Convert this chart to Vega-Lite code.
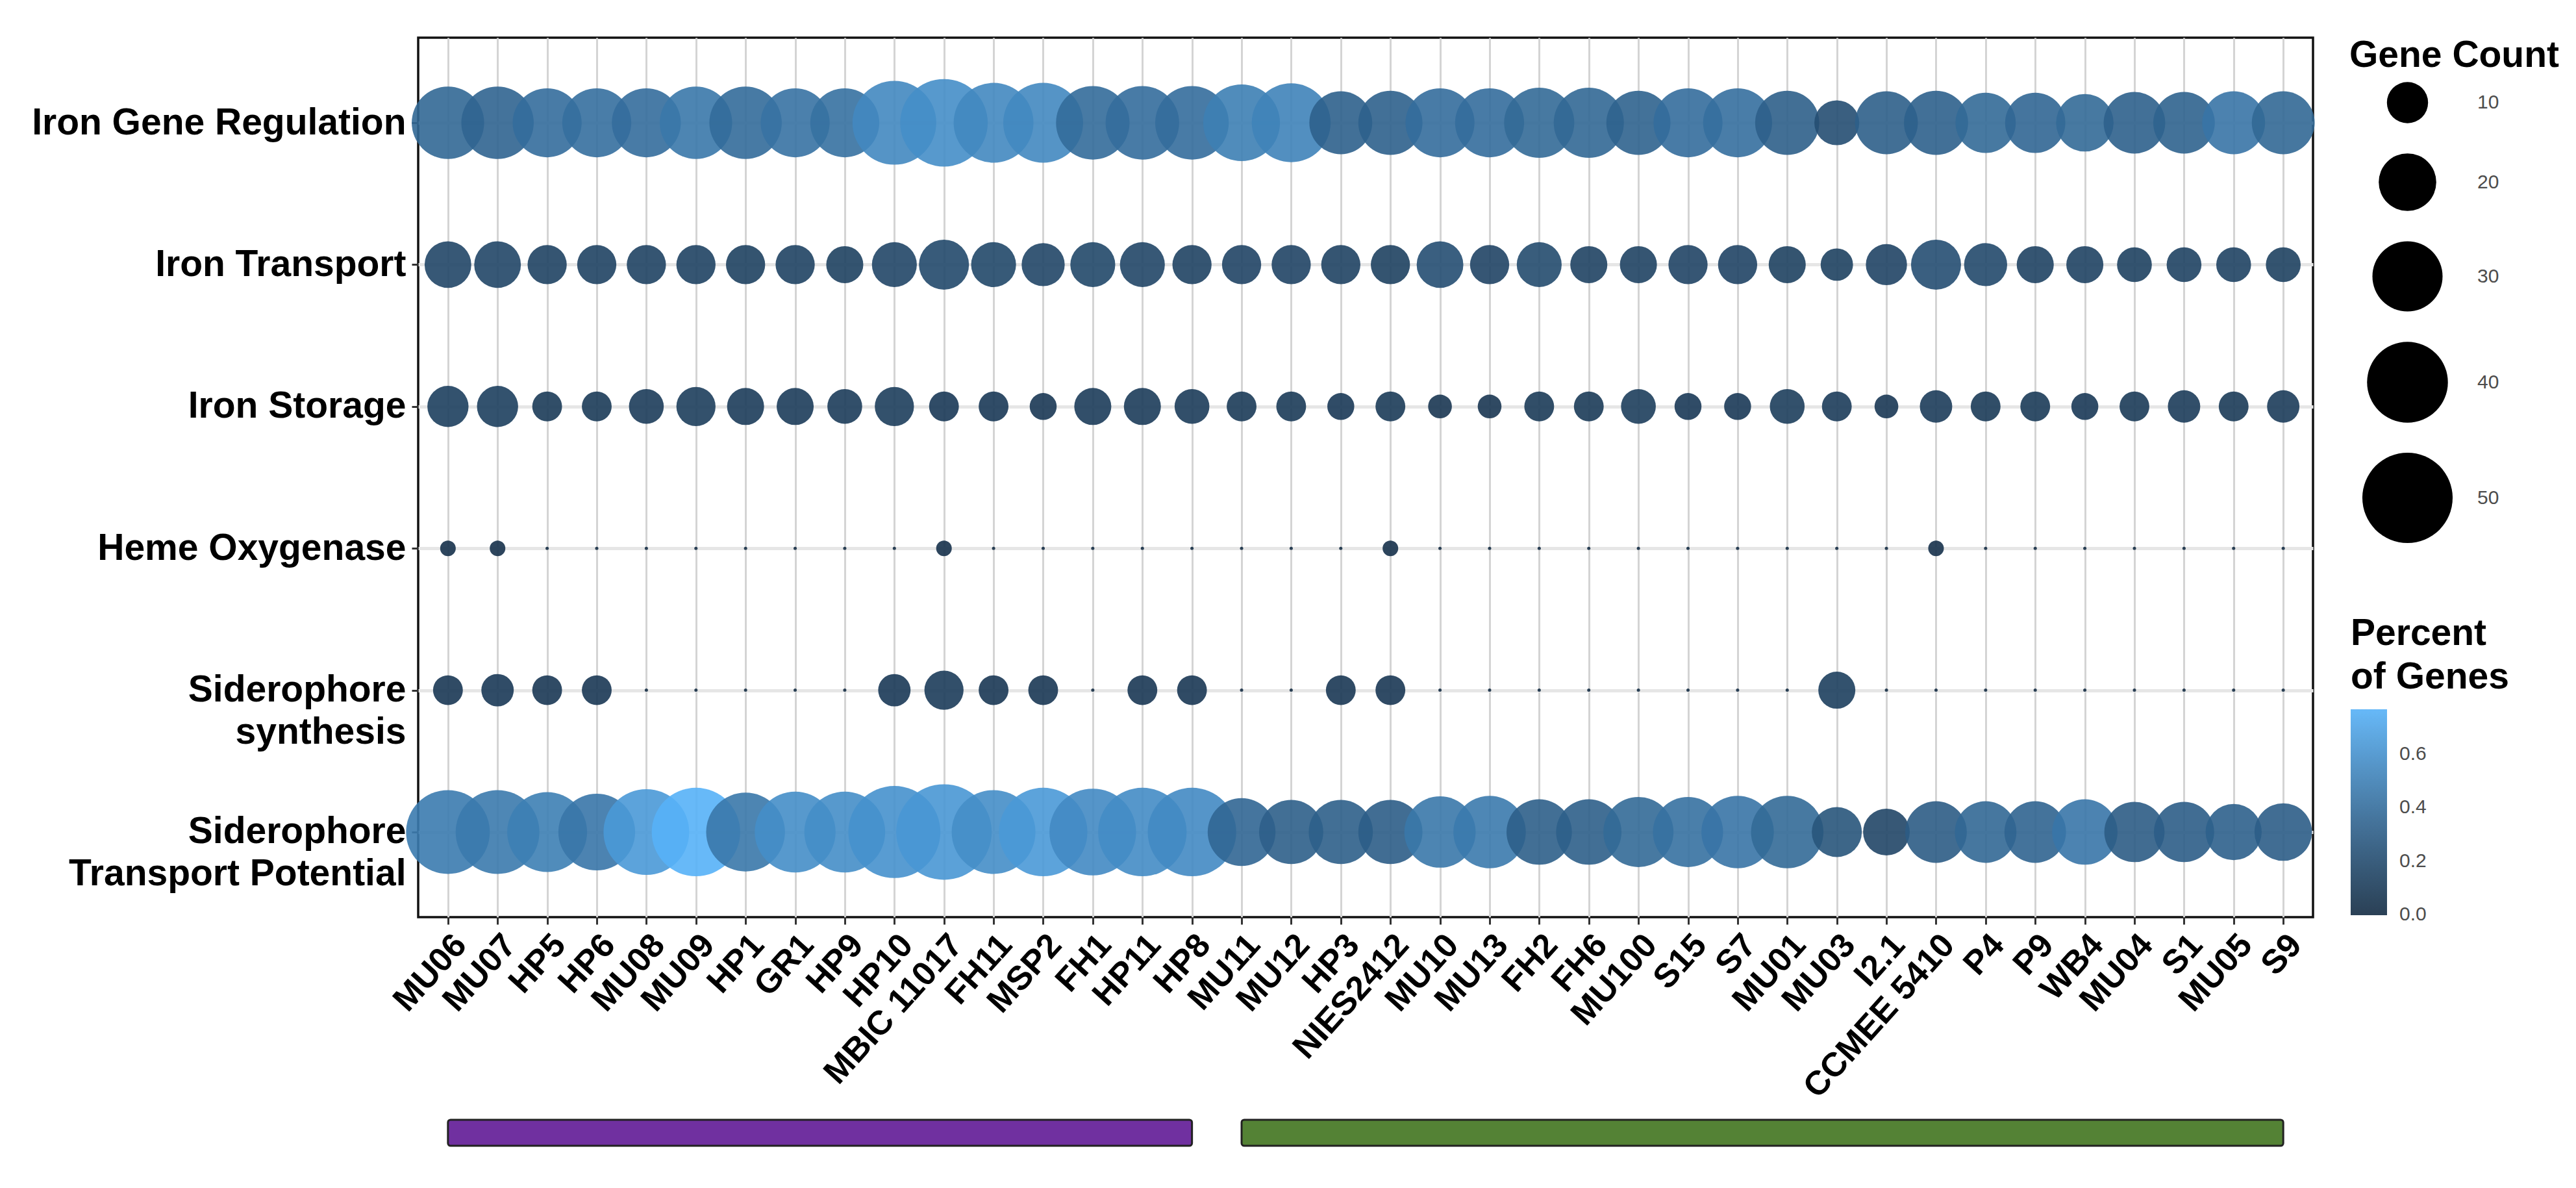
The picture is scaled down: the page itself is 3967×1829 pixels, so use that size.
{
  "$schema": "https://vega.github.io/schema/vega-lite/v6.json",
  "padding": {"left": 46, "top": 56, "right": 0, "bottom": 0},
  "background": "white",
  "config": {"font": "Liberation Sans", "view": {"stroke": null}},
  "bounds": "flush",
  "spacing": 312,
  "datasets": {
    "groups": [
      {"clade": "A", "start": "MU06", "end": "HP8"},
      {"clade": "B", "start": "MU11", "end": "S9"}
    ],
    "genes": [
      {"strain":"MU06","category":"Iron Gene Regulation","count":32,"percent":0.37},
      {"strain":"MU06","category":"Iron Transport","count":13,"percent":0.17},
      {"strain":"MU06","category":"Iron Storage","count":10,"percent":0.13},
      {"strain":"MU06","category":"Heme Oxygenase","count":1,"percent":0.04},
      {"strain":"MU06","category":"Siderophore synthesis","count":5,"percent":0.08},
      {"strain":"MU06","category":"Siderophore Transport Potential","count":43,"percent":0.48},
      {"strain":"MU07","category":"Iron Gene Regulation","count":32,"percent":0.35},
      {"strain":"MU07","category":"Iron Transport","count":13,"percent":0.17},
      {"strain":"MU07","category":"Iron Storage","count":10,"percent":0.13},
      {"strain":"MU07","category":"Heme Oxygenase","count":1,"percent":0.04},
      {"strain":"MU07","category":"Siderophore synthesis","count":6,"percent":0.09},
      {"strain":"MU07","category":"Siderophore Transport Potential","count":43,"percent":0.47},
      {"strain":"HP5","category":"Iron Gene Regulation","count":29,"percent":0.40},
      {"strain":"HP5","category":"Iron Transport","count":9,"percent":0.15},
      {"strain":"HP5","category":"Iron Storage","count":5,"percent":0.10},
      {"strain":"HP5","category":"Heme Oxygenase","count":0,"percent":0},
      {"strain":"HP5","category":"Siderophore synthesis","count":5,"percent":0.08},
      {"strain":"HP5","category":"Siderophore Transport Potential","count":39,"percent":0.50},
      {"strain":"HP6","category":"Iron Gene Regulation","count":29,"percent":0.41},
      {"strain":"HP6","category":"Iron Transport","count":9,"percent":0.15},
      {"strain":"HP6","category":"Iron Storage","count":5,"percent":0.10},
      {"strain":"HP6","category":"Heme Oxygenase","count":0,"percent":0},
      {"strain":"HP6","category":"Siderophore synthesis","count":5,"percent":0.08},
      {"strain":"HP6","category":"Siderophore Transport Potential","count":36,"percent":0.45},
      {"strain":"MU08","category":"Iron Gene Regulation","count":29,"percent":0.40},
      {"strain":"MU08","category":"Iron Transport","count":9,"percent":0.15},
      {"strain":"MU08","category":"Iron Storage","count":7,"percent":0.11},
      {"strain":"MU08","category":"Heme Oxygenase","count":0,"percent":0},
      {"strain":"MU08","category":"Siderophore synthesis","count":0,"percent":0},
      {"strain":"MU08","category":"Siderophore Transport Potential","count":45,"percent":0.64},
      {"strain":"MU09","category":"Iron Gene Regulation","count":32,"percent":0.46},
      {"strain":"MU09","category":"Iron Transport","count":9,"percent":0.15},
      {"strain":"MU09","category":"Iron Storage","count":9,"percent":0.12},
      {"strain":"MU09","category":"Heme Oxygenase","count":0,"percent":0},
      {"strain":"MU09","category":"Siderophore synthesis","count":0,"percent":0},
      {"strain":"MU09","category":"Siderophore Transport Potential","count":48,"percent":0.766},
      {"strain":"HP1","category":"Iron Gene Regulation","count":32,"percent":0.39},
      {"strain":"HP1","category":"Iron Transport","count":9,"percent":0.14},
      {"strain":"HP1","category":"Iron Storage","count":8,"percent":0.11},
      {"strain":"HP1","category":"Heme Oxygenase","count":0,"percent":0},
      {"strain":"HP1","category":"Siderophore synthesis","count":0,"percent":0},
      {"strain":"HP1","category":"Siderophore Transport Potential","count":38,"percent":0.46},
      {"strain":"GR1","category":"Iron Gene Regulation","count":29,"percent":0.43},
      {"strain":"GR1","category":"Iron Transport","count":9,"percent":0.15},
      {"strain":"GR1","category":"Iron Storage","count":8,"percent":0.11},
      {"strain":"GR1","category":"Heme Oxygenase","count":0,"percent":0},
      {"strain":"GR1","category":"Siderophore synthesis","count":0,"percent":0},
      {"strain":"GR1","category":"Siderophore Transport Potential","count":40,"percent":0.58},
      {"strain":"HP9","category":"Iron Gene Regulation","count":29,"percent":0.42},
      {"strain":"HP9","category":"Iron Transport","count":8,"percent":0.14},
      {"strain":"HP9","category":"Iron Storage","count":7,"percent":0.11},
      {"strain":"HP9","category":"Heme Oxygenase","count":0,"percent":0},
      {"strain":"HP9","category":"Siderophore synthesis","count":0,"percent":0},
      {"strain":"HP9","category":"Siderophore Transport Potential","count":40,"percent":0.58},
      {"strain":"HP10","category":"Iron Gene Regulation","count":43,"percent":0.55},
      {"strain":"HP10","category":"Iron Transport","count":12,"percent":0.17},
      {"strain":"HP10","category":"Iron Storage","count":9,"percent":0.12},
      {"strain":"HP10","category":"Heme Oxygenase","count":0,"percent":0},
      {"strain":"HP10","category":"Siderophore synthesis","count":6,"percent":0.09},
      {"strain":"HP10","category":"Siderophore Transport Potential","count":52,"percent":0.60},
      {"strain":"MBIC 11017","category":"Iron Gene Regulation","count":47,"percent":0.58},
      {"strain":"MBIC 11017","category":"Iron Transport","count":15,"percent":0.19},
      {"strain":"MBIC 11017","category":"Iron Storage","count":5,"percent":0.09},
      {"strain":"MBIC 11017","category":"Heme Oxygenase","count":1,"percent":0.04},
      {"strain":"MBIC 11017","category":"Siderophore synthesis","count":9,"percent":0.11},
      {"strain":"MBIC 11017","category":"Siderophore Transport Potential","count":56,"percent":0.63},
      {"strain":"FH11","category":"Iron Gene Regulation","count":39,"percent":0.55},
      {"strain":"FH11","category":"Iron Transport","count":12,"percent":0.18},
      {"strain":"FH11","category":"Iron Storage","count":5,"percent":0.09},
      {"strain":"FH11","category":"Heme Oxygenase","count":0,"percent":0},
      {"strain":"FH11","category":"Siderophore synthesis","count":5,"percent":0.08},
      {"strain":"FH11","category":"Siderophore Transport Potential","count":43,"percent":0.58},
      {"strain":"MSP2","category":"Iron Gene Regulation","count":39,"percent":0.55},
      {"strain":"MSP2","category":"Iron Transport","count":11,"percent":0.17},
      {"strain":"MSP2","category":"Iron Storage","count":4,"percent":0.08},
      {"strain":"MSP2","category":"Heme Oxygenase","count":0,"percent":0},
      {"strain":"MSP2","category":"Siderophore synthesis","count":5,"percent":0.08},
      {"strain":"MSP2","category":"Siderophore Transport Potential","count":48,"percent":0.64},
      {"strain":"FH1","category":"Iron Gene Regulation","count":33,"percent":0.39},
      {"strain":"FH1","category":"Iron Transport","count":12,"percent":0.18},
      {"strain":"FH1","category":"Iron Storage","count":8,"percent":0.11},
      {"strain":"FH1","category":"Heme Oxygenase","count":0,"percent":0},
      {"strain":"FH1","category":"Siderophore synthesis","count":0,"percent":0},
      {"strain":"FH1","category":"Siderophore Transport Potential","count":46,"percent":0.56},
      {"strain":"HP11","category":"Iron Gene Regulation","count":33,"percent":0.40},
      {"strain":"HP11","category":"Iron Transport","count":12,"percent":0.17},
      {"strain":"HP11","category":"Iron Storage","count":8,"percent":0.11},
      {"strain":"HP11","category":"Heme Oxygenase","count":0,"percent":0},
      {"strain":"HP11","category":"Siderophore synthesis","count":5,"percent":0.08},
      {"strain":"HP11","category":"Siderophore Transport Potential","count":48,"percent":0.57},
      {"strain":"HP8","category":"Iron Gene Regulation","count":33,"percent":0.40},
      {"strain":"HP8","category":"Iron Transport","count":9,"percent":0.15},
      {"strain":"HP8","category":"Iron Storage","count":7,"percent":0.11},
      {"strain":"HP8","category":"Heme Oxygenase","count":0,"percent":0},
      {"strain":"HP8","category":"Siderophore synthesis","count":5,"percent":0.08},
      {"strain":"HP8","category":"Siderophore Transport Potential","count":48,"percent":0.56},
      {"strain":"MU11","category":"Iron Gene Regulation","count":36,"percent":0.50},
      {"strain":"MU11","category":"Iron Transport","count":9,"percent":0.16},
      {"strain":"MU11","category":"Iron Storage","count":5,"percent":0.10},
      {"strain":"MU11","category":"Heme Oxygenase","count":0,"percent":0},
      {"strain":"MU11","category":"Siderophore synthesis","count":0,"percent":0},
      {"strain":"MU11","category":"Siderophore Transport Potential","count":28,"percent":0.36},
      {"strain":"MU12","category":"Iron Gene Regulation","count":38,"percent":0.52},
      {"strain":"MU12","category":"Iron Transport","count":9,"percent":0.16},
      {"strain":"MU12","category":"Iron Storage","count":5,"percent":0.10},
      {"strain":"MU12","category":"Heme Oxygenase","count":0,"percent":0},
      {"strain":"MU12","category":"Siderophore synthesis","count":0,"percent":0},
      {"strain":"MU12","category":"Siderophore Transport Potential","count":25,"percent":0.32},
      {"strain":"HP3","category":"Iron Gene Regulation","count":24,"percent":0.33},
      {"strain":"HP3","category":"Iron Transport","count":9,"percent":0.15},
      {"strain":"HP3","category":"Iron Storage","count":4,"percent":0.09},
      {"strain":"HP3","category":"Heme Oxygenase","count":0,"percent":0},
      {"strain":"HP3","category":"Siderophore synthesis","count":5,"percent":0.08},
      {"strain":"HP3","category":"Siderophore Transport Potential","count":25,"percent":0.32},
      {"strain":"NIES2412","category":"Iron Gene Regulation","count":25,"percent":0.33},
      {"strain":"NIES2412","category":"Iron Transport","count":9,"percent":0.14},
      {"strain":"NIES2412","category":"Iron Storage","count":5,"percent":0.10},
      {"strain":"NIES2412","category":"Heme Oxygenase","count":1,"percent":0.04},
      {"strain":"NIES2412","category":"Siderophore synthesis","count":5,"percent":0.08},
      {"strain":"NIES2412","category":"Siderophore Transport Potential","count":25,"percent":0.31},
      {"strain":"MU10","category":"Iron Gene Regulation","count":29,"percent":0.40},
      {"strain":"MU10","category":"Iron Transport","count":13,"percent":0.22},
      {"strain":"MU10","category":"Iron Storage","count":3,"percent":0.07},
      {"strain":"MU10","category":"Heme Oxygenase","count":0,"percent":0},
      {"strain":"MU10","category":"Siderophore synthesis","count":0,"percent":0},
      {"strain":"MU10","category":"Siderophore Transport Potential","count":31,"percent":0.46},
      {"strain":"MU13","category":"Iron Gene Regulation","count":29,"percent":0.40},
      {"strain":"MU13","category":"Iron Transport","count":9,"percent":0.16},
      {"strain":"MU13","category":"Iron Storage","count":3,"percent":0.07},
      {"strain":"MU13","category":"Heme Oxygenase","count":0,"percent":0},
      {"strain":"MU13","category":"Siderophore synthesis","count":0,"percent":0},
      {"strain":"MU13","category":"Siderophore Transport Potential","count":32,"percent":0.47},
      {"strain":"FH2","category":"Iron Gene Regulation","count":30,"percent":0.38},
      {"strain":"FH2","category":"Iron Transport","count":12,"percent":0.20},
      {"strain":"FH2","category":"Iron Storage","count":5,"percent":0.10},
      {"strain":"FH2","category":"Heme Oxygenase","count":0,"percent":0},
      {"strain":"FH2","category":"Siderophore synthesis","count":0,"percent":0},
      {"strain":"FH2","category":"Siderophore Transport Potential","count":26,"percent":0.32},
      {"strain":"FH6","category":"Iron Gene Regulation","count":30,"percent":0.37},
      {"strain":"FH6","category":"Iron Transport","count":8,"percent":0.15},
      {"strain":"FH6","category":"Iron Storage","count":5,"percent":0.10},
      {"strain":"FH6","category":"Heme Oxygenase","count":0,"percent":0},
      {"strain":"FH6","category":"Siderophore synthesis","count":0,"percent":0},
      {"strain":"FH6","category":"Siderophore Transport Potential","count":26,"percent":0.32},
      {"strain":"MU100","category":"Iron Gene Regulation","count":25,"percent":0.34},
      {"strain":"MU100","category":"Iron Transport","count":8,"percent":0.15},
      {"strain":"MU100","category":"Iron Storage","count":7,"percent":0.12},
      {"strain":"MU100","category":"Heme Oxygenase","count":0,"percent":0},
      {"strain":"MU100","category":"Siderophore synthesis","count":0,"percent":0},
      {"strain":"MU100","category":"Siderophore Transport Potential","count":30,"percent":0.38},
      {"strain":"S15","category":"Iron Gene Regulation","count":29,"percent":0.40},
      {"strain":"S15","category":"Iron Transport","count":9,"percent":0.16},
      {"strain":"S15","category":"Iron Storage","count":4,"percent":0.09},
      {"strain":"S15","category":"Heme Oxygenase","count":0,"percent":0},
      {"strain":"S15","category":"Siderophore synthesis","count":0,"percent":0},
      {"strain":"S15","category":"Siderophore Transport Potential","count":30,"percent":0.42},
      {"strain":"S7","category":"Iron Gene Regulation","count":29,"percent":0.41},
      {"strain":"S7","category":"Iron Transport","count":9,"percent":0.16},
      {"strain":"S7","category":"Iron Storage","count":4,"percent":0.09},
      {"strain":"S7","category":"Heme Oxygenase","count":0,"percent":0},
      {"strain":"S7","category":"Siderophore synthesis","count":0,"percent":0},
      {"strain":"S7","category":"Siderophore Transport Potential","count":32,"percent":0.44},
      {"strain":"MU01","category":"Iron Gene Regulation","count":25,"percent":0.32},
      {"strain":"MU01","category":"Iron Transport","count":8,"percent":0.14},
      {"strain":"MU01","category":"Iron Storage","count":7,"percent":0.12},
      {"strain":"MU01","category":"Heme Oxygenase","count":0,"percent":0},
      {"strain":"MU01","category":"Siderophore synthesis","count":0,"percent":0},
      {"strain":"MU01","category":"Siderophore Transport Potential","count":32,"percent":0.38},
      {"strain":"MU03","category":"Iron Gene Regulation","count":12,"percent":0.22},
      {"strain":"MU03","category":"Iron Transport","count":6,"percent":0.14},
      {"strain":"MU03","category":"Iron Storage","count":5,"percent":0.11},
      {"strain":"MU03","category":"Heme Oxygenase","count":0,"percent":0},
      {"strain":"MU03","category":"Siderophore synthesis","count":8,"percent":0.13},
      {"strain":"MU03","category":"Siderophore Transport Potential","count":15,"percent":0.26},
      {"strain":"I2.1","category":"Iron Gene Regulation","count":24,"percent":0.32},
      {"strain":"I2.1","category":"Iron Transport","count":10,"percent":0.16},
      {"strain":"I2.1","category":"Iron Storage","count":3,"percent":0.08},
      {"strain":"I2.1","category":"Heme Oxygenase","count":0,"percent":0},
      {"strain":"I2.1","category":"Siderophore synthesis","count":0,"percent":0},
      {"strain":"I2.1","category":"Siderophore Transport Potential","count":13,"percent":0.17},
      {"strain":"CCMEE 5410","category":"Iron Gene Regulation","count":25,"percent":0.33},
      {"strain":"CCMEE 5410","category":"Iron Transport","count":15,"percent":0.22},
      {"strain":"CCMEE 5410","category":"Iron Storage","count":6,"percent":0.11},
      {"strain":"CCMEE 5410","category":"Heme Oxygenase","count":1,"percent":0.04},
      {"strain":"CCMEE 5410","category":"Siderophore synthesis","count":0,"percent":0},
      {"strain":"CCMEE 5410","category":"Siderophore Transport Potential","count":23,"percent":0.30},
      {"strain":"P4","category":"Iron Gene Regulation","count":22,"percent":0.38},
      {"strain":"P4","category":"Iron Transport","count":11,"percent":0.19},
      {"strain":"P4","category":"Iron Storage","count":5,"percent":0.10},
      {"strain":"P4","category":"Heme Oxygenase","count":0,"percent":0},
      {"strain":"P4","category":"Siderophore synthesis","count":0,"percent":0},
      {"strain":"P4","category":"Siderophore Transport Potential","count":23,"percent":0.37},
      {"strain":"P9","category":"Iron Gene Regulation","count":22,"percent":0.36},
      {"strain":"P9","category":"Iron Transport","count":8,"percent":0.15},
      {"strain":"P9","category":"Iron Storage","count":5,"percent":0.10},
      {"strain":"P9","category":"Heme Oxygenase","count":0,"percent":0},
      {"strain":"P9","category":"Siderophore synthesis","count":0,"percent":0},
      {"strain":"P9","category":"Siderophore Transport Potential","count":23,"percent":0.35},
      {"strain":"WB4","category":"Iron Gene Regulation","count":20,"percent":0.38},
      {"strain":"WB4","category":"Iron Transport","count":8,"percent":0.15},
      {"strain":"WB4","category":"Iron Storage","count":4,"percent":0.09},
      {"strain":"WB4","category":"Heme Oxygenase","count":0,"percent":0},
      {"strain":"WB4","category":"Siderophore synthesis","count":0,"percent":0},
      {"strain":"WB4","category":"Siderophore Transport Potential","count":26,"percent":0.45},
      {"strain":"MU04","category":"Iron Gene Regulation","count":23,"percent":0.33},
      {"strain":"MU04","category":"Iron Transport","count":7,"percent":0.14},
      {"strain":"MU04","category":"Iron Storage","count":5,"percent":0.10},
      {"strain":"MU04","category":"Heme Oxygenase","count":0,"percent":0},
      {"strain":"MU04","category":"Siderophore synthesis","count":0,"percent":0},
      {"strain":"MU04","category":"Siderophore Transport Potential","count":22,"percent":0.30},
      {"strain":"S1","category":"Iron Gene Regulation","count":23,"percent":0.34},
      {"strain":"S1","category":"Iron Transport","count":7,"percent":0.15},
      {"strain":"S1","category":"Iron Storage","count":6,"percent":0.11},
      {"strain":"S1","category":"Heme Oxygenase","count":0,"percent":0},
      {"strain":"S1","category":"Siderophore synthesis","count":0,"percent":0},
      {"strain":"S1","category":"Siderophore Transport Potential","count":22,"percent":0.31},
      {"strain":"MU05","category":"Iron Gene Regulation","count":24,"percent":0.44},
      {"strain":"MU05","category":"Iron Transport","count":7,"percent":0.15},
      {"strain":"MU05","category":"Iron Storage","count":5,"percent":0.10},
      {"strain":"MU05","category":"Heme Oxygenase","count":0,"percent":0},
      {"strain":"MU05","category":"Siderophore synthesis","count":0,"percent":0},
      {"strain":"MU05","category":"Siderophore Transport Potential","count":19,"percent":0.33},
      {"strain":"S9","category":"Iron Gene Regulation","count":24,"percent":0.37},
      {"strain":"S9","category":"Iron Transport","count":7,"percent":0.14},
      {"strain":"S9","category":"Iron Storage","count":6,"percent":0.11},
      {"strain":"S9","category":"Heme Oxygenase","count":0,"percent":0},
      {"strain":"S9","category":"Siderophore synthesis","count":0,"percent":0},
      {"strain":"S9","category":"Siderophore Transport Potential","count":20,"percent":0.31}
    ]
  },
  "vconcat": [
    {
      "width": 2918,
      "height": 1354,
      "data": {"name": "genes"},
      "view": {"stroke": "#111111", "strokeWidth": 3.5},
      "mark": {"type": "circle", "opacity": 0.9},
      "encoding": {
        "x": {
          "field": "strain", "type": "nominal",
          "scale": {"type": "point", "padding": 0.6, "domain": ["MU06","MU07","HP5","HP6","MU08","MU09","HP1","GR1","HP9","HP10","MBIC 11017","FH11","MSP2","FH1","HP11","HP8","MU11","MU12","HP3","NIES2412","MU10","MU13","FH2","FH6","MU100","S15","S7","MU01","MU03","I2.1","CCMEE 5410","P4","P9","WB4","MU04","S1","MU05","S9"]},
          "axis": {
            "title": null, "labelAngle": -48, "labelAlign": "right", "labelBaseline": "top",
            "labelFontSize": 52, "labelFontWeight": "bold", "labelColor": "black",
            "labelPadding": 6, "labelLimit": 1000, "labelOverlap": false,
            "tickSize": 11, "tickWidth": 3, "tickColor": "#333333",
            "domain": false, "grid": true, "gridColor": "#D4D4D4", "gridWidth": 3
          }
        },
        "y": {
          "field": "category", "type": "nominal",
          "scale": {"type": "point", "padding": 0.6, "domain": ["Iron Gene Regulation","Iron Transport","Iron Storage","Heme Oxygenase","Siderophore synthesis","Siderophore Transport Potential"]},
          "axis": {
            "title": null, "labelFontSize": 57, "labelFontWeight": "bold", "labelColor": "black",
            "labelPadding": 9, "labelLimit": 1000, "labelLineHeight": 65,
            "labelExpr": "datum.value == 'Siderophore synthesis' ? ['Siderophore', 'synthesis'] : datum.value == 'Siderophore Transport Potential' ? ['Siderophore', 'Transport Potential'] : datum.label",
            "tickSize": 10, "tickWidth": 3, "tickColor": "#333333",
            "domain": false, "grid": true, "gridColor": "#E6E6E6", "gridWidth": 5
          }
        },
        "size": {
          "field": "count", "type": "quantitative",
          "scale": {"domain": [0, 1, 50], "range": [25, 576, 19321]},
          "legend": {
            "title": "Gene Count", "orient": "none", "legendX": 2974, "legendY": 0,
            "values": [10, 20, 30, 40, 50],
            "titleFontSize": 57, "titleFontWeight": "bold", "titleColor": "black", "titleLimit": 1000, "titlePadding": 11,
            "labelFontSize": 30, "labelColor": "#4D4D4D", "labelOffset": 38,
            "symbolOffset": 20, "rowPadding": 46, "symbolType": "circle",
            "symbolFillColor": "black", "symbolStrokeWidth": 0, "symbolOpacity": 1, "padding": 0
          }
        },
        "color": {
          "field": "percent", "type": "quantitative",
          "scale": {"domain": [0, 0.766], "range": ["#132B43", "#56B1F7"], "interpolate": "lab"},
          "legend": {
            "title": ["Percent", "of Genes"], "orient": "none", "legendX": 2976, "legendY": 890,
            "type": "gradient", "direction": "vertical", "gradientLength": 317, "gradientThickness": 56,
            "values": [0.002, 0.2, 0.4, 0.6], "format": ".1f",
            "titleFontSize": 57, "titleFontWeight": "bold", "titleColor": "black", "titleLimit": 1000,
            "titleLineHeight": 67, "titlePadding": 20,
            "labelFontSize": 30, "labelColor": "#4D4D4D", "labelOffset": 19, "labelBaseline": "middle",
            "gradientStrokeWidth": 0, "padding": 0
          }
        }
      }
    },
    {
      "width": 2918,
      "height": 40,
      "data": {"name": "groups"},
      "mark": {"type": "rect", "stroke": "#222222", "strokeWidth": 3, "cornerRadius": 4},
      "encoding": {
        "x": {
          "field": "start", "type": "nominal",
          "scale": {"type": "point", "padding": 0.6, "domain": ["MU06","MU07","HP5","HP6","MU08","MU09","HP1","GR1","HP9","HP10","MBIC 11017","FH11","MSP2","FH1","HP11","HP8","MU11","MU12","HP3","NIES2412","MU10","MU13","FH2","FH6","MU100","S15","S7","MU01","MU03","I2.1","CCMEE 5410","P4","P9","WB4","MU04","S1","MU05","S9"]},
          "axis": null
        },
        "x2": {"field": "end"},
        "fill": {"field": "clade", "type": "nominal", "scale": {"domain": ["A", "B"], "range": ["#7030A0", "#548235"]}, "legend": null}
      }
    }
  ],
  "resolve": {"legend": {"size": "independent", "color": "independent"}}
}
